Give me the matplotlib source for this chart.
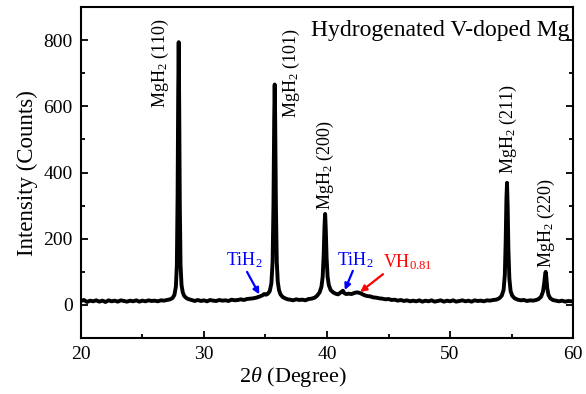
import matplotlib
matplotlib.use("Agg")
import matplotlib.pyplot as plt
from matplotlib.ticker import MultipleLocator

plt.rcParams['font.family'] = ['Liberation Serif', 'DejaVu Serif']
plt.rcParams['mathtext.fontset'] = 'custom'
plt.rcParams['mathtext.rm'] = 'Liberation Serif'
plt.rcParams['mathtext.it'] = 'Liberation Serif:italic'

# XRD pattern (2theta in degrees, intensity in counts)
two_theta = [
    20.00, 20.25, 20.50, 20.75, 21.00, 21.25, 21.50, 21.75, 22.00, 22.25,
    22.50, 22.75, 23.00, 23.25, 23.50, 23.75, 24.00, 24.25, 24.50, 24.75,
    25.00, 25.25, 25.50, 25.75, 26.00, 26.25, 26.50, 26.75, 27.00, 27.25,
    27.45, 27.60, 27.72, 27.80, 27.86, 27.91, 27.95, 27.99, 28.04, 28.10,
    28.18, 28.28, 28.40, 28.60, 28.80, 29.00,
    29.25, 29.50, 29.75, 30.00, 30.25, 30.50, 30.75, 31.00, 31.25, 31.50,
    31.75, 32.00, 32.25, 32.50, 32.75, 33.00, 33.25, 33.50, 33.75, 34.00,
    34.25, 34.50, 34.75, 34.90, 35.05, 35.20, 35.35, 35.48, 35.58, 35.65,
    35.71, 35.75, 35.79, 35.85, 35.92, 36.00, 36.10, 36.22, 36.40, 36.60,
    36.80, 37.00, 37.25, 37.50, 37.75, 38.00, 38.25, 38.50, 38.75, 39.00,
    39.20, 39.40, 39.55, 39.65, 39.73, 39.80, 39.85, 39.90, 39.97, 40.05,
    40.15, 40.30, 40.50, 40.70, 40.90, 41.05, 41.20, 41.30, 41.40, 41.55,
    41.75, 42.00, 42.20, 42.40, 42.60, 42.80, 43.00, 43.25, 43.50, 43.75,
    44.00, 44.25, 44.50, 44.75, 45.00, 45.25, 45.50, 45.75, 46.00, 46.25,
    46.50, 46.75, 47.00, 47.25, 47.50, 47.75, 48.00, 48.25, 48.50, 48.75,
    49.00, 49.25, 49.50, 49.75, 50.00, 50.25, 50.50, 50.75, 51.00, 51.25,
    51.50, 51.75, 52.00, 52.25, 52.50, 52.75, 53.00, 53.25, 53.50, 53.75,
    54.00, 54.20, 54.35, 54.45, 54.52, 54.58, 54.63, 54.68, 54.74, 54.82,
    54.92, 55.05, 55.25, 55.50, 55.75, 56.00, 56.25, 56.50, 56.75, 57.00,
    57.20, 57.40, 57.55, 57.65, 57.72, 57.77, 57.82, 57.90, 58.00, 58.15,
    58.35, 58.60, 58.85, 59.10, 59.35, 59.60, 59.85, 60.00,
]
counts = [
    12, 15, 9, 13, 11, 14, 10, 13, 9, 14,
    11, 13, 10, 14, 12, 10, 13, 11, 14, 10,
    13, 11, 14, 12, 13, 11, 14, 13, 15, 17,
    21, 30, 55, 120, 330, 640, 794, 610, 300, 120,
    60, 38, 27, 20, 17, 15,
    12, 15, 12, 14, 11, 15, 13, 12, 15, 13,
    14, 12, 16, 14, 15, 17, 15, 18, 19, 20,
    22, 25, 29, 33, 31, 34, 42, 65, 130, 300,
    560, 666, 560, 300, 130, 70, 45, 32, 24, 20,
    17, 16, 14, 17, 15, 16, 14, 18, 19, 22,
    28, 38, 55, 85, 150, 240, 275, 230, 140, 85,
    60, 45, 38, 34, 32, 36, 40, 43, 36, 33,
    34, 33, 36, 38, 37, 34, 30, 27, 26, 23,
    22, 20, 19, 17, 18, 15, 16, 13, 15, 12,
    14, 11, 13, 11, 14, 10, 13, 11, 14, 10,
    12, 14, 10, 13, 11, 14, 10, 12, 14, 11,
    13, 10, 14, 12, 13, 11, 14, 13, 15, 16,
    20, 28, 45, 90, 190, 320, 369, 300, 170, 80,
    42, 28, 20, 16, 14, 15, 12, 14, 13, 15,
    18, 25, 40, 65, 90, 100, 85, 50, 30, 20,
    15, 13, 11, 13, 10, 12, 11, 12,
]

# peak labels: text, 2theta of label centre, counts where label starts
peak_labels = ['MgH$_2$ (110)', 'MgH$_2$ (101)', 'MgH$_2$ (200)',
               'MgH$_2$ (211)', 'MgH$_2$ (220)']
peak_label_x = [26.5, 37.15, 39.9, 54.75, 57.85]
peak_label_y = [596, 566, 288, 395, 112]

fig = plt.figure(figsize=(5.86, 3.94), dpi=100)
ax = fig.add_axes([0.138, 0.142, 0.840, 0.840])

ax.plot(two_theta, counts, color='black', lw=2.8, solid_joinstyle='round')

for txt, lx, ly in zip(peak_labels, peak_label_x, peak_label_y):
    ax.text(lx, ly, txt, rotation=90, ha='center', va='bottom', fontsize=13)

arrow_kw = dict(arrowstyle='-|>', lw=1.6, mutation_scale=9, shrinkA=0, shrinkB=0)
ax.annotate('', xy=(34.5, 32), xytext=(33.5, 100),
            arrowprops=dict(color='blue', **arrow_kw))
ax.text(33.3, 135, 'TiH$_2$', color='blue', fontsize=13, ha='center', va='center')
ax.annotate('', xy=(41.45, 45), xytext=(42.1, 103),
            arrowprops=dict(color='blue', **arrow_kw))
ax.text(42.3, 135, 'TiH$_2$', color='blue', fontsize=13, ha='center', va='center')
ax.annotate('', xy=(42.7, 39), xytext=(44.55, 93),
            arrowprops=dict(color='red', **arrow_kw))
ax.text(46.6, 130, 'VH$_{0.81}$', color='red', fontsize=13, ha='center', va='center')

ax.text(59.7, 830, 'Hydrogenated V-doped Mg', ha='right', va='center', fontsize=17)

ax.set_xlim(20, 60)
ax.set_ylim(-100, 900)
ax.xaxis.set_major_locator(MultipleLocator(10))
ax.xaxis.set_minor_locator(MultipleLocator(5))
ax.yaxis.set_major_locator(MultipleLocator(200))
ax.yaxis.set_minor_locator(MultipleLocator(100))
ax.set_yticks([0, 200, 400, 600, 800])
ax.tick_params(which='both', direction='in', top=False, right=True,
               labelsize=14, width=1.3, pad=6)
ax.tick_params(which='major', length=5)
ax.tick_params(which='minor', length=3)
for s in ax.spines.values():
    s.set_linewidth(1.5)

ax.set_xlabel(r'2$\it{\theta}$ (Degree)', fontsize=16)
ax.xaxis.set_label_coords(0.43, -0.08)
ax.set_ylabel('Intensity (Counts)', fontsize=16.5, labelpad=4)

fig.savefig('out.png', dpi=100)
